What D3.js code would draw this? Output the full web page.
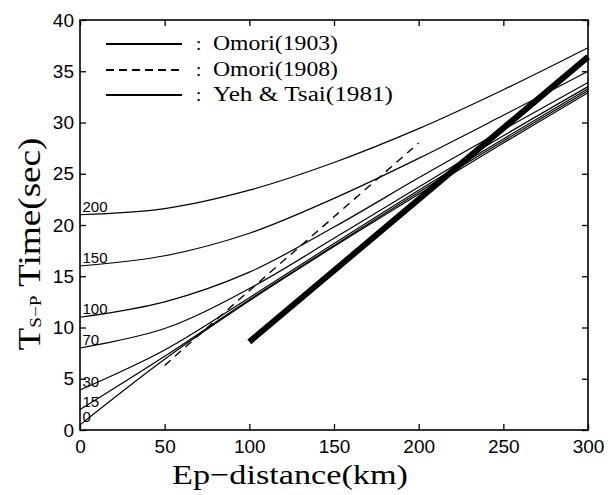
<!DOCTYPE html>
<html>
<head>
<meta charset="utf-8">
<script src="https://cdn.jsdelivr.net/npm/d3@7"></script>
<style>
  body { margin: 0; background: #fff; }
  svg { display: block; }
</style>
</head>
<body>
<div id="chart"></div>
<script>
// epicentral distance samples (km) for the Yeh & Tsai curves
const distances = [0, 50, 100, 150, 200, 250, 300];

// S-P times (sec), one array per focal depth (km)
const depths = [0, 15, 30, 70, 100, 150, 200];
const tsp_h0   = [0.5, 6.9, 12.6, 17.9, 23.0, 28.0, 32.9];
const tsp_h15  = [2.0, 7.2, 12.7, 18.0, 23.2, 28.2, 33.1];
const tsp_h30  = [3.9, 7.8, 12.9, 18.2, 23.4, 28.4, 33.3];
const tsp_h70  = [8.0, 9.9, 13.8, 18.7, 23.7, 28.7, 33.5];
const tsp_h100 = [11.0, 12.5, 15.4, 19.8, 24.6, 29.3, 33.9];
const tsp_h150 = [16.0, 17.0, 19.2, 22.6, 26.5, 30.7, 35.0];
const tsp_h200 = [21.0, 21.6, 23.4, 26.1, 29.4, 33.2, 37.3];
const yehTsai = [tsp_h0, tsp_h15, tsp_h30, tsp_h70, tsp_h100, tsp_h150, tsp_h200];

// Omori (1903) - thick line
const omori1903Dist = [100, 300];
const omori1903Time = [8.6, 36.4];

// Omori (1908) - dashed line
const omori1908Dist = [50, 100, 150, 200];
const omori1908Time = [6.3, 13.6, 20.8, 28.0];

const xTicks = [0, 50, 100, 150, 200, 250, 300];
const yTicks = [0, 5, 10, 15, 20, 25, 30, 35, 40];
const legendLabels = ["Omori(1903)", "Omori(1908)", "Yeh & Tsai(1981)"];

const W = 613, H = 495;
const x = d3.scaleLinear([0, 300], [80, 588]);
const y = d3.scaleLinear([0, 40], [430, 20]);

const serif = "Liberation Serif, Times New Roman, serif";
const sans = "Liberation Sans, Arial, sans-serif";

const svg = d3.select("#chart").append("svg")
    .attr("width", W)
    .attr("height", H);

//axes with inward ticks
svg.append("g")
    .attr("transform", `translate(0,${y(0)})`)
    .call(d3.axisBottom(x).tickValues(xTicks).tickSize(-6).tickPadding(10));
svg.append("g")
    .attr("transform", `translate(${x(0)},0)`)
    .call(d3.axisLeft(y).tickValues(yTicks).tickSize(-6).tickPadding(6));
svg.append("g")
    .attr("transform", `translate(0,${y(40)})`)
    .call(d3.axisTop(x).tickValues(xTicks).tickSize(-6).tickFormat(""));
svg.append("g")
    .attr("transform", `translate(${x(300)},0)`)
    .call(d3.axisRight(y).tickValues(yTicks).tickSize(-6).tickFormat(""));

svg.selectAll(".domain").remove();
svg.selectAll(".tick line").attr("stroke", "#000").attr("stroke-width", 1.3);

svg.selectAll(".tick text")
    .attr("font-family", sans)
    .attr("font-size", 19)
    .attr("fill", "#000");

//frame
svg.append("rect")
    .attr("x", x(0))
    .attr("y", y(40))
    .attr("width", x(300) - x(0))
    .attr("height", y(0) - y(40))
    .attr("fill", "none")
    .attr("stroke", "#000")
    .attr("stroke-width", 1.6);

const line = d3.line()
    .x(d => x(d[0]))
    .y(d => y(d[1]))
    .curve(d3.curveCatmullRom.alpha(0.5));

//Yeh & Tsai curves
svg.append("g")
    .selectAll("path")
    .data(yehTsai)
    .join("path")
    .attr("d", times => line(distances.map((d, i) => [d, times[i]])))
    .attr("fill", "none")
    .attr("stroke", "#000")
    .attr("stroke-width", 1.2);

//depth labels
svg.append("g")
    .selectAll("text")
    .data(depths)
    .join("text")
    .attr("x", x(1.5))
    .attr("y", (d, i) => y(yehTsai[i][0]) - 3)
    .attr("font-family", sans)
    .attr("font-size", 15)
    .text(d => d);

//Omori 1908 dashed
svg.append("path")
    .attr("d", line(omori1908Dist.map((d, i) => [d, omori1908Time[i]])))
    .attr("fill", "none")
    .attr("stroke", "#000")
    .attr("stroke-width", 1.4)
    .attr("stroke-dasharray", "8,6");

//Omori 1903 thick
svg.append("path")
    .attr("d", line(omori1903Dist.map((d, i) => [d, omori1903Time[i]])))
    .attr("fill", "none")
    .attr("stroke", "#000")
    .attr("stroke-width", 6);

//legend
const legend = svg.append("g");
const legendY = [44, 70, 95];
const legendDash = [null, "8,5", null];
const legendLen = [125, 125, 180];

legend.selectAll("line")
    .data(legendLabels)
    .join("line")
    .attr("x1", 106)
    .attr("x2", 182)
    .attr("y1", (d, i) => legendY[i])
    .attr("y2", (d, i) => legendY[i])
    .attr("stroke", "#000")
    .attr("stroke-width", 1.8)
    .attr("stroke-dasharray", (d, i) => legendDash[i]);

legend.selectAll(".colon")
    .data(legendLabels)
    .join("text")
    .attr("class", "colon")
    .attr("x", 196)
    .attr("y", (d, i) => legendY[i] + 6)
    .attr("font-family", serif)
    .attr("font-size", 19)
    .text(":");

legend.selectAll(".legend-label")
    .data(legendLabels)
    .join("text")
    .attr("class", "legend-label")
    .attr("x", 213)
    .attr("y", (d, i) => legendY[i] + 6)
    .attr("font-family", serif)
    .attr("font-size", 20)
    .attr("textLength", (d, i) => legendLen[i])
    .attr("lengthAdjust", "spacingAndGlyphs")
    .text(d => d);

//axis titles
svg.append("text")
    .attr("x", 290)
    .attr("y", 484)
    .attr("text-anchor", "middle")
    .attr("font-family", serif)
    .attr("font-size", 28)
    .attr("textLength", 236)
    .attr("lengthAdjust", "spacingAndGlyphs")
    .text("Ep\u2212distance(km)");

const yTitle = svg.append("text")
    .attr("transform", "translate(40,244) rotate(-90)")
    .attr("text-anchor", "middle")
    .attr("font-family", serif)
    .attr("font-size", 31)
    .attr("textLength", 213)
    .attr("lengthAdjust", "spacingAndGlyphs");
yTitle.append("tspan").text("T");
yTitle.append("tspan").attr("font-size", 16).attr("dy", 1).text("S\u2212P");
yTitle.append("tspan").attr("dy", -1).text(" Time(sec)");
</script>
</body>
</html>
